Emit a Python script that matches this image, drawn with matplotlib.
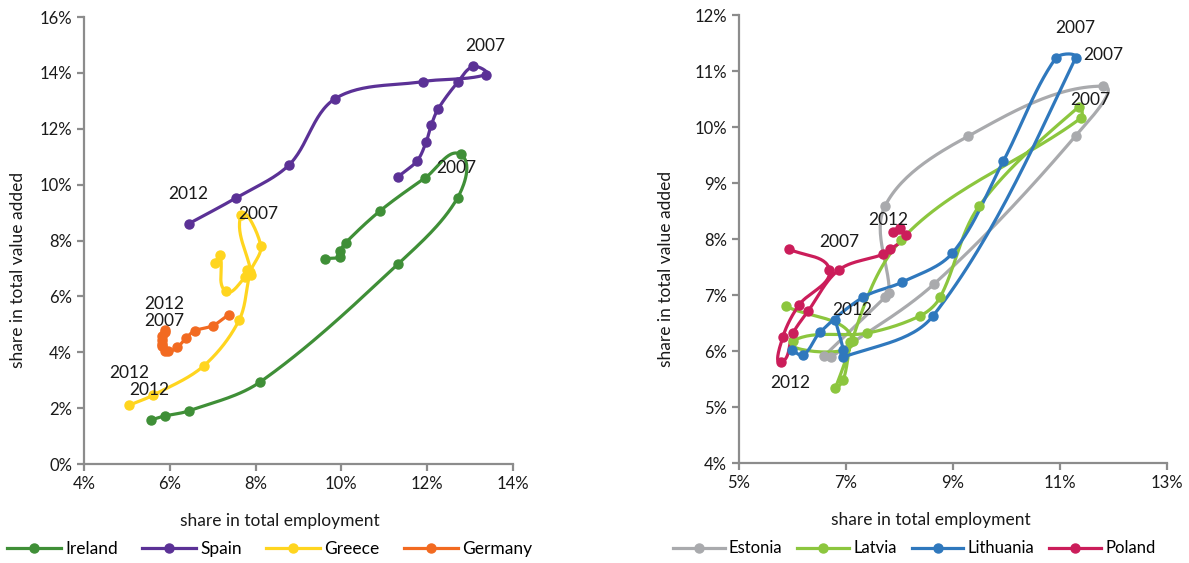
import numpy as np
import matplotlib
matplotlib.use("Agg")
import matplotlib.pyplot as plt
from matplotlib.lines import Line2D
from matplotlib.ticker import FuncFormatter

plt.rcParams['font.family'] = ['Lato', 'DejaVu Sans']

# construction: share in total employment (x) vs share in total value added (y), in %
ireland_x = [9.61, 9.98, 9.98, 10.10, 10.91, 11.96, 12.78, 12.71, 11.33, 8.11, 6.44, 5.88, 5.57]
ireland_y = [7.35, 7.42, 7.63, 7.92, 9.07, 10.25, 11.08, 9.53, 7.17, 2.94, 1.90, 1.72, 1.58]

spain_x = [11.33, 11.77, 11.98, 12.10, 12.26, 12.71, 13.08, 13.38, 11.91, 9.86, 8.79, 7.55, 6.44]
spain_y = [10.29, 10.86, 11.54, 12.15, 12.72, 13.66, 14.23, 13.94, 13.69, 13.08, 10.72, 9.53, 8.60]

greece_x = [7.06, 7.17, 7.30, 7.76, 7.79, 7.90, 7.66, 8.12, 7.88, 7.62, 6.79, 5.62, 5.06]
greece_y = [7.19, 7.47, 6.18, 6.70, 6.95, 6.77, 8.90, 7.82, 6.88, 5.16, 3.51, 2.47, 2.11]

germany_x = [7.37, 7.00, 6.58, 6.39, 6.18, 5.95, 5.88, 5.83, 5.83, 5.90, 5.83, 5.83, 5.90]
germany_y = [5.34, 4.95, 4.77, 4.52, 4.19, 4.05, 4.73, 4.44, 4.23, 4.05, 4.30, 4.59, 4.80]

estonia_x = [6.72, 8.65, 11.29, 11.80, 9.29, 7.73, 7.81, 7.73, 6.59]
estonia_y = [5.89, 7.20, 9.84, 10.73, 9.84, 8.59, 7.04, 6.96, 5.91]

latvia_x = [5.88, 7.13, 6.01, 7.40, 8.39, 8.76, 9.49, 11.35, 11.39, 8.03, 6.80, 6.95, 7.08]
latvia_y = [6.80, 6.18, 6.18, 6.32, 6.63, 6.96, 8.59, 10.36, 10.16, 7.98, 5.34, 5.48, 6.16]

lithuania_x = [5.99, 6.20, 6.52, 7.32, 8.05, 8.99, 9.94, 10.92, 11.29, 8.63, 6.95, 6.95, 6.80]
lithuania_y = [6.02, 5.93, 6.34, 6.96, 7.23, 7.75, 9.39, 11.23, 11.23, 6.63, 5.89, 6.02, 6.55]

poland_x = [5.94, 6.69, 6.12, 5.82, 5.79, 6.01, 6.29, 6.87, 7.70, 7.83, 8.13, 7.87, 8.01]
poland_y = [7.82, 7.45, 6.82, 6.25, 5.80, 6.32, 6.71, 7.45, 7.73, 7.82, 8.07, 8.13, 8.20]

left_series = [("Ireland", ireland_x, ireland_y, "#3f8f37"),
               ("Spain", spain_x, spain_y, "#5b3196"),
               ("Greece", greece_x, greece_y, "#ffd51f"),
               ("Germany", germany_x, germany_y, "#f26a21")]
right_series = [("Estonia", estonia_x, estonia_y, "#a9aaad"),
                ("Latvia", latvia_x, latvia_y, "#8cc63e"),
                ("Lithuania", lithuania_x, lithuania_y, "#2f78bd"),
                ("Poland", poland_x, poland_y, "#cb1d5a")]

# year labels (text, x, y)
left_years = [("2007", 13.36, 14.95), ("2007", 12.68, 10.61), ("2012", 6.44, 9.68),
              ("2007", 8.07, 8.96), ("2012", 5.88, 5.73), ("2007", 5.88, 5.13),
              ("2012", 5.06, 3.26), ("2012", 5.53, 2.65)]
right_years = [("2007", 11.29, 11.77), ("2007", 11.80, 11.29), ("2007", 11.57, 10.48),
               ("2007", 6.87, 7.95), ("2012", 7.79, 8.34), ("2012", 7.12, 6.73),
               ("2012", 5.96, 5.43)]


def smooth(xs, ys, kx, ky, k=0.33, n=30):
    # cubic Bezier through the points, handles along the neighbour chord,
    # handle length proportional to the segment (worked out in screen-like units)
    p = np.column_stack([np.asarray(xs) * kx, np.asarray(ys) * ky]).astype(float)
    m = len(p)
    tang = np.zeros_like(p)
    for i in range(m):
        a = p[max(i - 1, 0)]
        b = p[min(i + 1, m - 1)]
        d = b - a
        L = np.hypot(*d)
        tang[i] = d / L if L > 0 else 0
    t = np.linspace(0, 1, n, endpoint=False)[:, None]
    out = []
    for i in range(m - 1):
        p0, p3 = p[i], p[i + 1]
        L = np.hypot(*(p3 - p0))
        p1 = p0 + tang[i] * L * k
        p2 = p3 - tang[i + 1] * L * k
        out.append((1 - t)**3 * p0 + 3 * (1 - t)**2 * t * p1 + 3 * (1 - t) * t**2 * p2 + t**3 * p3)
    out.append(p[-1][None, :])
    out = np.vstack(out)
    return out[:, 0] / kx, out[:, 1] / ky


def draw(ax, series, years, xlim, ylim, xt, yt, kx, ky):
    for name, xs, ys, c in series:
        sx, sy = smooth(xs, ys, kx, ky)
        ax.plot(sx, sy, color=c, lw=2.3, solid_capstyle='round', zorder=2)
        ax.plot(xs, ys, 'o', color=c, ms=6.5, zorder=3)
    for txt, x, y in years:
        ax.text(x, y, txt, fontsize=12.5, ha='center', va='center', color='#1a1a1a', zorder=4)
    ax.set_xlim(*xlim)
    ax.set_ylim(*ylim)
    ax.set_xticks(xt)
    ax.set_yticks(yt)
    fmt = FuncFormatter(lambda v, pos: '%d%%' % round(v))
    ax.xaxis.set_major_formatter(fmt)
    ax.yaxis.set_major_formatter(fmt)
    for s in ['top', 'right']:
        ax.spines[s].set_visible(False)
    for s in ['left', 'bottom']:
        ax.spines[s].set_color('#8c8c8c')
        ax.spines[s].set_linewidth(1.6)
    ax.tick_params(colors='#8c8c8c', width=1.6, length=5, labelsize=12,
                   labelcolor='#1a1a1a')
    ax.set_xlabel('share in total employment', fontsize=12.5, color='#1a1a1a')
    ax.set_ylabel('share in total value added', fontsize=12.5, color='#1a1a1a')


fig = plt.figure(figsize=(11.89, 5.63), dpi=100)
ax1 = fig.add_axes([0.0706, 0.1758, 0.3608, 0.794])
ax2 = fig.add_axes([0.6215, 0.1776, 0.36, 0.7957])

draw(ax1, left_series, left_years, (4, 14), (0, 16), range(4, 15, 2), range(0, 17, 2), 42.9, 27.9)
draw(ax2, right_series, right_years, (5, 13), (4, 12), range(5, 14, 2), range(4, 13, 1), 53.4, 56.0)

ax1.xaxis.set_label_coords(0.457, -0.11)
ax2.xaxis.set_label_coords(0.449, -0.11)
ax1.yaxis.set_label_coords(-0.135, 0.434)
ax2.yaxis.set_label_coords(-0.152, 0.433)


def handles(series):
    return [Line2D([], [], color=c, lw=2.3, marker='o', ms=6.5) for _, _, _, c in series]


leg_kw = dict(loc='center left', ncol=4, frameon=False, borderpad=0,
              borderaxespad=0, handlelength=3.1, handletextpad=0.25, numpoints=1)
fig.legend(handles(left_series), [s[0] for s in left_series], fontsize=12.5,
           bbox_to_anchor=(0.006, 0.024), columnspacing=1.4, **leg_kw)
fig.legend(handles(right_series), [s[0] for s in right_series], fontsize=12,
           bbox_to_anchor=(0.566, 0.026), columnspacing=0.9, **leg_kw)

fig.savefig('out.png', dpi=100)
